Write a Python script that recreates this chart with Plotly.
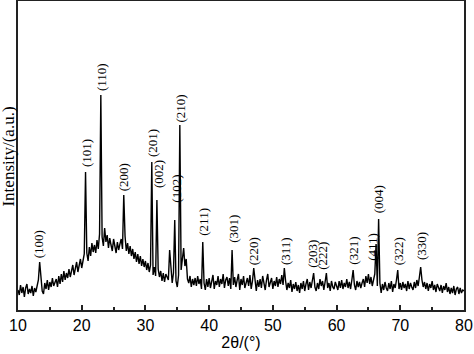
import numpy as np
import plotly.graph_objects as go

# 2theta grid (degrees), step 0.2
two_theta = np.round(np.arange(10.0, 80.0001, 0.2), 1)

# Intensity (a.u.), one row per 2 degrees
intensity = [
    20, 15, 25, 17, 23, 13, 22, 26, 16, 21,      # 10.0-11.8
    17, 24, 14, 22, 18, 25, 30, 48, 33, 19,      # 12.0-13.8
    16, 27, 21, 30, 20, 28, 23, 32, 24, 29,      # 14.0-15.8
    31, 23, 34, 26, 36, 28, 39, 30, 37, 32,      # 16.0-17.8
    41, 33, 39, 45, 35, 43, 48, 38, 46, 51,      # 18.0-19.8
    42, 49, 56, 138, 57, 49, 63, 54, 67, 58,     # 20.0-21.8
    65, 57, 70, 61, 76, 215, 73, 64, 82, 68,     # 22.0-23.8
    75, 62, 72, 65, 59, 71, 63, 57, 68, 60,      # 24.0-25.8
    66, 71, 61, 115, 74, 59, 67, 56, 64, 54,     # 26.0-27.8
    61, 51, 58, 48, 56, 46, 54, 44, 51, 43,      # 28.0-29.8
    49, 40, 47, 38, 45, 148, 35, 43, 34, 110,    # 30.0-31.8
    41, 33, 39, 29, 37, 28, 36, 32, 30, 60,      # 32.0-33.8
    38, 27, 37, 90, 29, 23, 35, 185, 40, 55,     # 34.0-35.8
    62, 44, 51, 31, 27, 34, 23, 31, 25, 32,      # 36.0-37.8
    24, 34, 26, 31, 21, 68, 27, 20, 31, 23,      # 38.0-39.8
    32, 22, 30, 35, 21, 29, 25, 34, 23, 31,      # 40.0-41.8
    26, 36, 22, 30, 33, 24, 32, 21, 60, 25,      # 42.0-43.8
    33, 23, 30, 36, 20, 31, 25, 34, 22, 29,      # 44.0-45.8
    32, 24, 35, 21, 29, 42, 26, 19, 30, 23,      # 46.0-47.8
    31, 22, 34, 25, 20, 30, 36, 23, 28, 32,      # 48.0-49.8
    21, 29, 24, 33, 23, 31, 26, 35, 25, 42,      # 50.0-51.8
    29, 20, 27, 22, 30, 18, 26, 21, 28, 19,      # 52.0-53.8
    25, 17, 27, 21, 29, 19, 26, 31, 20, 28,      # 54.0-55.8
    22, 30, 37, 23, 19, 27, 21, 31, 24, 29,      # 56.0-57.8
    20, 28, 37, 22, 27, 19, 29, 23, 21, 28,      # 58.0-59.8
    24, 20, 29, 22, 30, 21, 27, 23, 31, 22,      # 60.0-61.8
    28, 21, 30, 40, 25, 20, 29, 23, 28, 22,      # 62.0-63.8
    27, 31, 23, 34, 27, 36, 26, 33, 24, 31,      # 64.0-65.8
    36, 66, 24, 91, 27, 17, 26, 20, 28, 22,      # 66.0-67.8
    19, 27, 21, 29, 18, 26, 22, 30, 40, 21,      # 68.0-69.8
    27, 20, 28, 22, 26, 19, 29, 21, 27, 23,      # 70.0-71.8
    20, 28, 22, 30, 24, 33, 43, 30, 23, 28,      # 72.0-73.8
    21, 27, 19, 26, 22, 29, 20, 25, 18, 26,      # 74.0-75.8
    21, 19, 25, 17, 24, 20, 27, 18, 23, 16,      # 76.0-77.8
    22, 17, 24, 15, 21, 23, 16, 22, 17, 20,      # 78.0-79.8
    19,                                          # 80.0
]

# Miller index labels and their positions (2theta, intensity)
hkl_labels = ["(100)", "(101)", "(110)", "(200)", "(201)", "(002)", "(102)", "(210)",
              "(211)", "(301)", "(220)", "(311)", "(203)", "(222)", "(321)", "(411)",
              "(004)", "(322)", "(330)"]
hkl_x = [13.19, 20.67, 23.03, 26.53, 31.03, 31.97, 34.75, 35.5,
         38.99, 43.70, 46.93, 51.91, 56.10, 57.67, 62.53, 65.52,
         66.55, 69.69, 73.25]
hkl_y = [66, 157, 233, 133, 167, 136, 121, 202,
         88, 81, 59, 59, 56, 54, 59, 63,
         111, 59, 64]

x_ticks = [10, 20, 30, 40, 50, 60, 70, 80]

fig = go.Figure()
fig.add_trace(go.Scatter(x=two_theta, y=intensity, mode="lines",
                         line=dict(color="black", width=1.4), showlegend=False,
                         hoverinfo="skip"))

for t, xv, yv in zip(hkl_labels, hkl_x, hkl_y):
    fig.add_annotation(x=xv, y=yv, text=t, textangle=-90, showarrow=False,
                       xanchor="center", yanchor="middle",
                       font=dict(family="Liberation Serif", size=13, color="black"))

fig.add_annotation(xref="paper", yref="paper", x=0, xshift=-9.5, y=0.495,
                   text="Intensity/(a.u.)", textangle=-90, showarrow=False,
                   xanchor="center", yanchor="middle",
                   font=dict(family="Liberation Serif", size=17, color="black"))

fig.update_layout(
    width=474, height=354,
    margin=dict(l=18, r=10, t=1, b=44, autoexpand=False),
    paper_bgcolor="white", plot_bgcolor="white",
    xaxis=dict(range=[10, 80], tickvals=x_ticks, ticks="inside", ticklen=5,
               tickwidth=1.5, tickcolor="#222", automargin=False,
               minor=dict(dtick=5, ticks="inside", ticklen=3, tickwidth=1.5, tickcolor="#222"),
               showline=True, linewidth=2, linecolor="#222", mirror=True,
               showgrid=False, zeroline=False,
               tickfont=dict(family="Liberation Sans", size=16, color="black"),
               title=dict(text="2θ/(°)", standoff=4,
                          font=dict(family="Liberation Sans", size=16, color="black"))),
    yaxis=dict(range=[0, 309], showticklabels=False, ticks="", automargin=False,
               showline=True, linewidth=2, linecolor="#222", mirror=True,
               showgrid=False, zeroline=False),
)

fig.write_html("out.html", config={"displayModeBar": False},
               post_script="document.body.style.margin='0';document.body.style.padding='0';")
